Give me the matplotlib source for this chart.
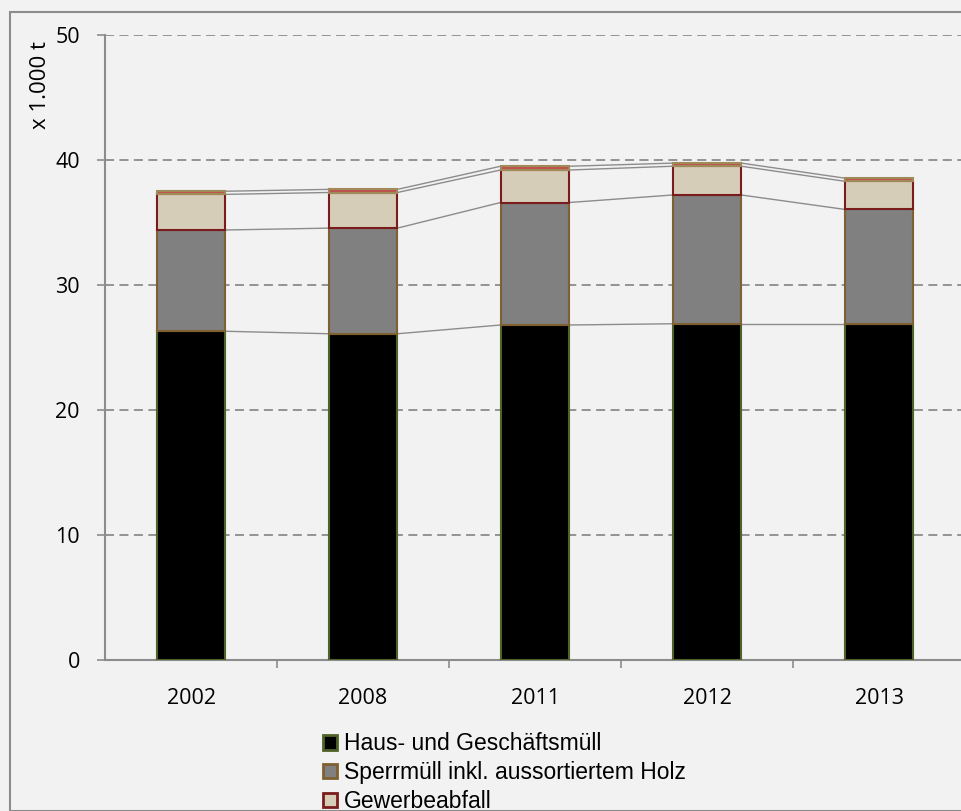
import numpy as np
import matplotlib.pyplot as plt
from matplotlib.patches import Patch, Rectangle

years = ["2002", "2008", "2011", "2012", "2013"]
haus = [26.3, 26.1, 26.8, 26.9, 26.9]
sperr = [8.1, 8.45, 9.8, 10.3, 9.15]
gewerbe = [2.85, 2.85, 2.6, 2.3, 2.25]
sonst = [0.25, 0.25, 0.3, 0.25, 0.25]

series = [
    ("Haus- und Geschäftsmüll", haus, "#000000", "#4f6228"),
    ("Sperrmüll inkl. aussortiertem Holz", sperr, "#808080", "#7f6030"),
    ("Gewerbeabfall", gewerbe, "#d6cdb8", "#7b1c1c"),
    ("Sonstige", sonst, "#c0504d", "#a08a5a"),
]

W, H = 962, 811
fig = plt.figure(figsize=(W / 100, H / 100), dpi=100)
fig.patch.set_facecolor("#f2f2f2")
fig.patches.append(Rectangle((10 / W, 0), 1, 1 - 12 / H, transform=fig.transFigure,
                             fill=False, edgecolor="#8c8c8c", lw=1.5))

ax = fig.add_axes([105 / W, 1 - 660 / H, 860 / W, 625 / H])
ax.set_facecolor("#f2f2f2")

x = np.arange(len(years))
bw = 0.4
bottom = np.zeros(len(years))
for name, vals, fc, ec in series:
    vals = np.asarray(vals)
    ax.bar(x, vals, bw, bottom=bottom, color=fc, edgecolor=ec, linewidth=1.5, zorder=3)
    top = bottom + vals
    for i in range(len(years) - 1):
        ax.plot([x[i] + bw / 2, x[i + 1] - bw / 2], [top[i], top[i + 1]],
                color="#8c8c8c", lw=1, zorder=2)
    bottom = top

ax.set_xlim(-0.5, len(years) - 0.5)
ax.set_ylim(0, 50)
ax.set_yticks(range(0, 51, 10))
ax.set_xticks(x)
ax.set_xticklabels(years)
ax.set_xticks(np.arange(0.5, len(years) - 0.5), minor=True)
ax.tick_params(axis="x", which="major", length=0, pad=20)
ax.tick_params(axis="x", which="minor", length=6, color="#8c8c8c", width=1.2)
ax.tick_params(axis="y", length=6, color="#8c8c8c", width=1.2, pad=12)
for lab in ax.get_xticklabels() + ax.get_yticklabels():
    lab.set_fontfamily("Open Sans")
    lab.set_fontsize(15.5)
ax.yaxis.grid(True, linestyle=(0, (5, 3)), color="#8c8c8c", lw=1.3, zorder=0)
for s in ["top", "right"]:
    ax.spines[s].set_visible(False)
for s in ["left", "bottom"]:
    ax.spines[s].set_color("#8c8c8c")
    ax.spines[s].set_linewidth(1.5)

fig.text(40 / W, 1 - 85 / H, "x 1.000 t", rotation=90, ha="center", va="center",
         fontfamily="Open Sans", fontsize=16)

handles = [Patch(facecolor=fc, edgecolor=ec, linewidth=2, label=name)
           for name, vals, fc, ec in series[:3]]
fig.legend(handles=handles, loc="upper left", bbox_to_anchor=(312 / W, 1 - 721 / H),
           frameon=False, handlelength=0.6, handleheight=0.6, handletextpad=0.3,
           labelspacing=0.25, borderpad=0,
           prop={"family": "Liberation Sans", "size": 16.5})

fig.savefig("out.png", dpi=100, facecolor=fig.get_facecolor())
